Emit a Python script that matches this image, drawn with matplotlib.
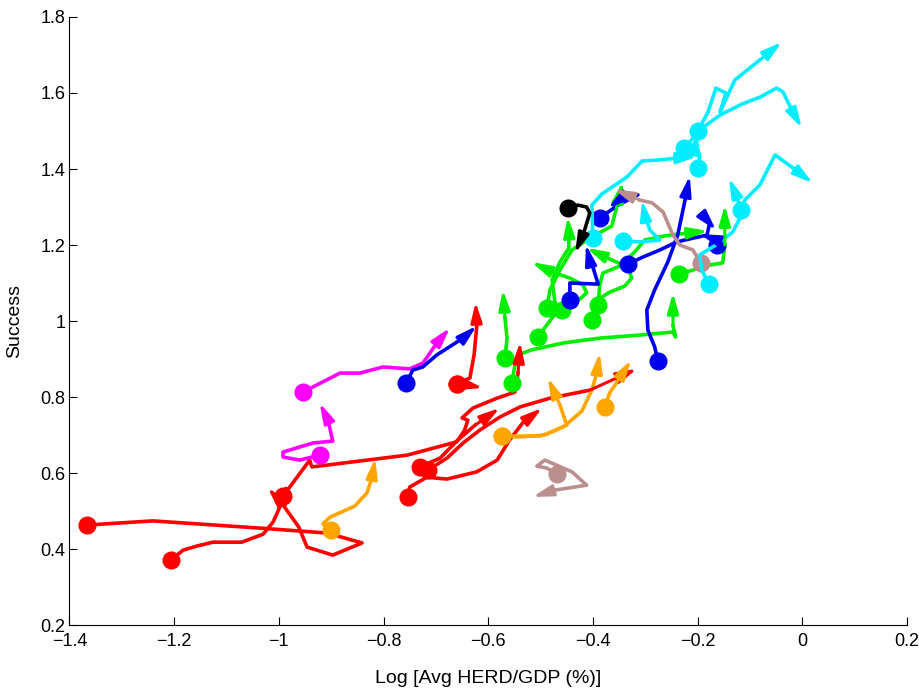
import matplotlib
matplotlib.use('Agg')
import matplotlib.pyplot as plt

# Each track: (x values, y values). First point gets a dot, last point an arrow head.
red = [
    ([-1.367, -1.241, -1.036, -0.908, -0.841, -0.897, -0.946, -0.962, -0.992, -1.021],
     [0.463, 0.474, 0.455, 0.442, 0.416, 0.384, 0.405, 0.458, 0.516, 0.561]),
    ([-1.206, -1.183, -1.156, -1.126, -1.071, -1.030, -1.011, -0.998, -0.983],
     [0.371, 0.397, 0.408, 0.418, 0.418, 0.439, 0.471, 0.511, 0.574]),
    ([-0.992, -0.941, -0.937, -0.878, -0.755, -0.660, -0.645, -0.639, -0.650, -0.629, -0.583, -0.549, -0.543, -0.539],
     [0.539, 0.634, 0.616, 0.626, 0.647, 0.682, 0.713, 0.739, 0.745, 0.771, 0.797, 0.813, 0.863, 0.945]),
    ([-0.753, -0.750, -0.717, -0.679, -0.622, -0.583, -0.559, -0.534, -0.497],
     [0.537, 0.563, 0.589, 0.584, 0.603, 0.634, 0.687, 0.732, 0.771]),
    ([-0.715, -0.679, -0.648, -0.616, -0.578, -0.539, -0.482, -0.406, -0.316],
     [0.608, 0.639, 0.679, 0.713, 0.747, 0.774, 0.797, 0.818, 0.874]),
    ([-0.731, -0.692, -0.658, -0.625, -0.578],
     [0.616, 0.639, 0.687, 0.726, 0.771]),
    ([-0.660, -0.635, -0.627, -0.622, -0.624],
     [0.834, 0.850, 0.911, 0.984, 1.050]),
    ([-0.660, -0.641, -0.610],
     [0.834, 0.832, 0.824]),
]

magenta = [
    ([-0.954, -0.883, -0.845, -0.801, -0.750, -0.725, -0.698, -0.673],
     [0.813, 0.863, 0.863, 0.879, 0.874, 0.889, 0.942, 0.982]),
    ([-0.922, -0.960, -0.992, -0.992, -0.935, -0.897, -0.906, -0.922],
     [0.647, 0.634, 0.642, 0.655, 0.679, 0.684, 0.739, 0.784]),
]

orange = [
    ([-0.901, -0.916, -0.902, -0.855, -0.832, -0.822, -0.816],
     [0.450, 0.466, 0.484, 0.513, 0.547, 0.587, 0.639]),
    ([-0.574, -0.549, -0.501, -0.473, -0.450, -0.463, -0.486],
     [0.697, 0.697, 0.697, 0.711, 0.726, 0.779, 0.850]),
    ([-0.574, -0.539, -0.492, -0.454, -0.421, -0.402, -0.392, -0.387],
     [0.697, 0.695, 0.700, 0.724, 0.763, 0.818, 0.866, 0.916]),
    ([-0.377, -0.368, -0.354, -0.327],
     [0.774, 0.811, 0.839, 0.897]),
]

green = [
    ([-0.568, -0.564, -0.568, -0.572],
     [0.903, 0.955, 1.008, 1.082]),
    ([-0.555, -0.549, -0.543, -0.517, -0.457, -0.387, -0.310, -0.247, -0.242, -0.247, -0.247],
     [0.837, 0.884, 0.911, 0.924, 0.942, 0.955, 0.963, 0.971, 0.958, 0.987, 1.074]),
    ([-0.505, -0.484, -0.469, -0.473, -0.478, -0.463, -0.446, -0.446, -0.448],
     [0.958, 0.997, 1.024, 1.055, 1.108, 1.155, 1.192, 1.234, 1.274]),
    ([-0.459, -0.434, -0.412, -0.419, -0.444, -0.478, -0.517],
     [1.029, 1.047, 1.074, 1.095, 1.113, 1.129, 1.155]),
    ([-0.390, -0.387, -0.381, -0.348, -0.320, -0.301, -0.263, -0.215, -0.180],
     [1.042, 1.095, 1.126, 1.145, 1.182, 1.213, 1.224, 1.232, 1.237]),
    ([-0.402, -0.392, -0.368, -0.339, -0.326, -0.333, -0.368, -0.412],
     [1.003, 1.055, 1.076, 1.092, 1.113, 1.142, 1.163, 1.192]),
    ([-0.488, -0.482, -0.463, -0.440, -0.402, -0.364, -0.356, -0.343],
     [1.034, 1.082, 1.134, 1.187, 1.221, 1.250, 1.292, 1.366]),
    ([-0.236, -0.209, -0.186, -0.152, -0.148, -0.148],
     [1.124, 1.134, 1.145, 1.153, 1.200, 1.305]),
]

blue = [
    ([-0.757, -0.744, -0.725, -0.698, -0.648, -0.622],
     [0.837, 0.871, 0.879, 0.911, 0.955, 0.987]),
    ([-0.276, -0.282, -0.295, -0.297, -0.282, -0.257, -0.238, -0.224, -0.215],
     [0.895, 0.932, 0.976, 1.029, 1.082, 1.155, 1.226, 1.318, 1.382]),
    ([-0.163, -0.173, -0.196],
     [1.200, 1.218, 1.229]),
    ([-0.333, -0.305, -0.272, -0.240, -0.209, -0.182, -0.177, -0.165],
     [1.150, 1.168, 1.187, 1.208, 1.218, 1.226, 1.258, 1.239]),
    ([-0.444, -0.444, -0.390, -0.400, -0.410, -0.413],
     [1.055, 1.100, 1.097, 1.142, 1.182, 1.200]),
    ([-0.387, -0.352, -0.314, -0.345, -0.371],
     [1.271, 1.305, 1.332, 1.324, 1.297]),
]

brown = [
    ([-0.194, -0.209, -0.234, -0.247, -0.266, -0.287, -0.310, -0.360],
     [1.153, 1.187, 1.200, 1.226, 1.287, 1.311, 1.318, 1.347]),
    ([-0.469, -0.488, -0.507, -0.492, -0.440, -0.412, -0.473, -0.515],
     [0.597, 0.613, 0.618, 0.634, 0.603, 0.568, 0.555, 0.537]),
]

cyan = [
    ([-0.343, -0.310, -0.272, -0.291, -0.301, -0.306],
     [1.211, 1.208, 1.213, 1.239, 1.279, 1.318]),
    ([-0.178, -0.192, -0.196, -0.165, -0.133, -0.119, -0.110, -0.081, -0.052, -0.018, 0.020],
     [1.097, 1.134, 1.174, 1.200, 1.234, 1.271, 1.318, 1.358, 1.437, 1.403, 1.363]),
    ([-0.117, -0.125, -0.140],
     [1.292, 1.326, 1.376]),
    ([-0.199, -0.196, -0.203, -0.199],
     [1.403, 1.434, 1.471, 1.495]),
    ([-0.400, -0.402, -0.383, -0.335, -0.306, -0.272, -0.238, -0.201],
     [1.218, 1.305, 1.334, 1.379, 1.421, 1.424, 1.429, 1.432]),
    ([-0.226, -0.205, -0.180, -0.165, -0.146, -0.157, -0.129, -0.081, -0.039],
     [1.455, 1.487, 1.550, 1.613, 1.600, 1.550, 1.634, 1.687, 1.734]),
    ([-0.199, -0.157, -0.115, -0.081, -0.049, -0.037, -0.018, -0.001],
     [1.500, 1.542, 1.571, 1.589, 1.613, 1.603, 1.550, 1.508]),
]

black = [
    ([-0.448, -0.429, -0.412, -0.406, -0.417, -0.434],
     [1.297, 1.305, 1.300, 1.284, 1.234, 1.179]),
]

xticks = [-1.4, -1.2, -1.0, -0.8, -0.6, -0.4, -0.2, 0.0, 0.2]
xticklabels = ['\u22121.4', '\u22121.2', '\u22121', '\u22120.8', '\u22120.6',
               '\u22120.4', '\u22120.2', '0', '0.2']
yticks = [0.2, 0.4, 0.6, 0.8, 1.0, 1.2, 1.4, 1.6, 1.8]
yticklabels = ['0.2', '0.4', '0.6', '0.8', '1', '1.2', '1.4', '1.6', '1.8']

plt.rcParams['font.family'] = ['Liberation Sans', 'DejaVu Sans']

fig = plt.figure(figsize=(9.19, 6.91), dpi=100)
ax = fig.add_axes([0.0756, 0.0955, 0.9113, 0.8799])


def draw(tracks, color):
    for xs, ys in tracks:
        ax.plot(xs[:-1], ys[:-1], color=color, lw=2.6, solid_joinstyle='round')
        ax.annotate('', xy=(xs[-1], ys[-1]), xytext=(xs[-2], ys[-2]),
                    arrowprops=dict(arrowstyle='-|>,head_length=0.6,head_width=0.17',
                                    color=color, lw=2.2, shrinkA=0, shrinkB=0,
                                    mutation_scale=20))
        ax.plot(xs[0], ys[0], 'o', color=color, ms=12, mec=color)


draw(red, '#ff0000')
draw(magenta, '#ff00ff')
draw(orange, '#ffa500')
draw(green, '#00ee00')
draw(blue, '#0000ee')
draw(brown, '#bc8f8f')
draw(cyan, '#00eeff')
draw(black, '#000000')

ax.set_xlim(-1.4, 0.2)
ax.set_ylim(0.2, 1.8)
ax.set_xticks(xticks)
ax.set_xticklabels(xticklabels)
ax.set_yticks(yticks)
ax.set_yticklabels(yticklabels)
ax.spines['top'].set_visible(False)
ax.spines['right'].set_visible(False)
ax.tick_params(direction='in', length=6, width=0.8, labelsize=13)
ax.tick_params(axis='y', pad=3)
ax.tick_params(axis='x', pad=6)
ax.set_xlabel('Log [Avg HERD/GDP (%)]', fontsize=14, labelpad=14)
ax.set_ylabel('Success', fontsize=14, labelpad=12)

plt.savefig('out.png', dpi=100)
